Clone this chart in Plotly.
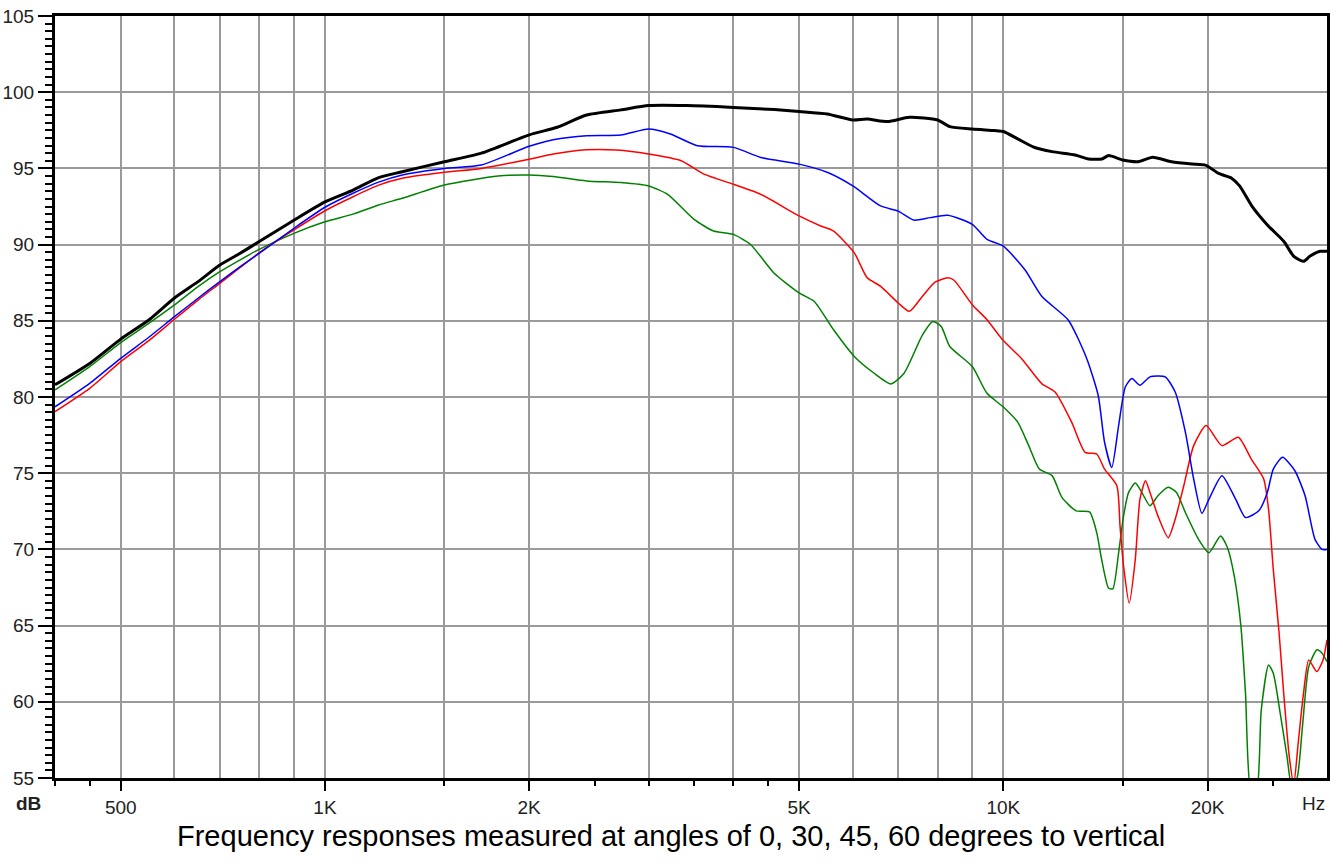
import math
import plotly.graph_objects as go

# ---------------- data ----------------
freq_0 = [400, 450, 500, 550, 600, 650, 700, 750, 800, 900, 1000, 1100, 1200, 1300, 1500, 1700,
          2000, 2200, 2430, 2730, 3000, 3420, 4000, 4600, 5000, 5500, 6000, 6300, 6750, 7270,
          8000, 8340, 9000, 9700, 10000, 10500, 11100, 11800, 12760, 13350, 13970, 14300, 15000,
          15800, 16600, 17700, 18960, 19860, 20760, 21700, 22300, 23250, 24600, 25900, 26800,
          27700, 28300, 29300, 30000]
db_0 = [80.8, 82.2, 83.8, 85.05, 86.5, 87.57, 88.66, 89.43, 90.2, 91.6, 92.8, 93.58, 94.4, 94.78,
        95.44, 96.0, 97.2, 97.7, 98.5, 98.84, 99.12, 99.12, 99.0, 98.86, 98.73, 98.57, 98.18, 98.24,
        98.07, 98.35, 98.18, 97.74, 97.58, 97.48, 97.42, 96.94, 96.39, 96.1, 95.88, 95.62, 95.62,
        95.84, 95.55, 95.44, 95.73, 95.44, 95.29, 95.22, 94.67, 94.36, 93.85, 92.53, 91.21, 90.22,
        89.23, 88.9, 89.23, 89.56, 89.56]

freq_30 = [400, 450, 500, 550, 600, 650, 700, 750, 800, 900, 1000, 1100, 1200, 1300, 1500, 1700,
           2000, 2170, 2430, 2730, 3000, 3230, 3540, 4000, 4390, 5000, 5510, 6000, 6590, 7000,
           7380, 7800, 8280, 9000, 9460, 10000, 10760, 11400, 12470, 13270, 13800, 14100, 14450,
           14790, 15130, 15470, 15900, 16450, 17320, 17920, 18550, 19080, 19620, 20100, 21000,
           22000, 22750, 23800, 24500, 25000, 25800, 26900, 27850, 28800, 29500, 30000]
db_30 = [79.36, 80.9, 82.54, 83.92, 85.27, 86.48, 87.57, 88.55, 89.43, 91.07, 92.45, 93.37, 94.1,
         94.57, 95.0, 95.22, 96.45, 96.88, 97.15, 97.19, 97.59, 97.26, 96.49, 96.38, 95.72, 95.28,
         94.73, 93.85, 92.54, 92.2, 91.61, 91.77, 91.92, 91.33, 90.34, 89.9, 88.35, 86.59, 85.04,
         82.53, 80.1, 77.03, 75.38, 78.13, 80.66, 81.21, 80.77, 81.32, 81.32, 80.33, 77.69, 74.62,
         72.37, 73.3, 74.84, 73.3, 72.09, 72.53, 73.74, 75.27, 76.04, 75.16, 73.52, 70.66, 70.0,
         70.0]

freq_45 = [400, 450, 500, 550, 600, 650, 700, 750, 800, 900, 1000, 1100, 1200, 1300, 1500, 1700,
           2000, 2170, 2430, 2690, 3000, 3350, 3620, 4000, 4390, 5000, 5380, 5620, 6030, 6300,
           6590, 7000, 7270, 7600, 7930, 8280, 8460, 9000, 9460, 10000, 10650, 11390, 11920,
           12610, 13200, 13730, 14100, 14700, 14860, 15040, 15330, 15650, 15900, 16200, 16450,
           16900, 17500, 17920, 18450, 19080, 19900, 21000, 22200, 23200, 24200, 24600, 25000,
           25500, 25900, 26400, 26800, 27200, 27700, 28200, 28980, 29600, 30000]
db_45 = [79.04, 80.57, 82.32, 83.7, 85.1, 86.36, 87.46, 88.5, 89.47, 90.96, 92.22, 93.14, 93.9,
         94.35, 94.74, 95.0, 95.6, 95.94, 96.22, 96.2, 95.94, 95.5, 94.62, 93.96, 93.3, 91.88,
         91.22, 90.89, 89.46, 87.82, 87.27, 86.17, 85.62, 86.61, 87.53, 87.82, 87.66, 86.06, 85.07,
         83.7, 82.5, 80.88, 80.33, 78.35, 76.37, 76.26, 75.27, 74.18, 71.54, 68.9, 66.48, 69.34,
         73.3, 74.5, 73.74, 72.2, 70.77, 71.98, 74.18, 76.81, 78.13, 76.81, 77.36, 75.93, 74.62,
         72.64, 68.68, 64.5, 60.55, 56.37, 54.6, 57.25, 60.55, 62.75, 61.98, 62.75, 64.07]

freq_60 = [400, 450, 500, 550, 600, 650, 700, 750, 800, 900, 1000, 1100, 1200, 1300, 1500, 1800,
           2000, 2170, 2430, 2730, 3000, 3200, 3500, 3740, 4000, 4240, 4590, 5000, 5260, 5620,
           6030, 6450, 6830, 7140, 7600, 7870, 8100, 8340, 9000, 9460, 10000, 10500, 10900, 11300,
           11800, 12200, 12800, 13400, 13730, 13960, 14290, 14500, 14790, 15040, 15300, 15650,
           16000, 16450, 16900, 17500, 18000, 18550, 19400, 20100, 20900, 21400, 21900, 22400,
           22750, 23200, 23600, 24000, 24600, 25000, 25600, 26200, 26600, 27100, 27600, 28200,
           29000, 29500, 30000]
db_60 = [80.46, 81.99, 83.57, 84.83, 86.04, 87.24, 88.22, 89.0, 89.69, 90.74, 91.5, 92.0, 92.6,
         93.04, 93.91, 94.5, 94.57, 94.47, 94.18, 94.07, 93.85, 93.3, 91.66, 90.89, 90.67, 90.01,
         88.14, 86.83, 86.28, 84.41, 82.66, 81.56, 80.86, 81.56, 84.08, 84.96, 84.63, 83.31, 82.0,
         80.24, 79.34, 78.35, 76.81, 75.27, 74.84, 73.41, 72.53, 72.46, 71.1, 69.34, 67.47, 67.41,
         69.78, 72.2, 73.74, 74.35, 73.74, 72.86, 73.52, 74.07, 73.74, 72.42, 70.66, 69.78, 70.88,
         70.11, 68.24, 64.95, 60.55, 54.0, 54.0, 59.45, 62.42, 61.87, 59.23, 56.37, 54.5, 55.0,
         58.35, 62.31, 63.41, 63.19, 62.64]

x_label_vals = [500, 1000, 2000, 5000, 10000, 20000]
x_label_text = ["500", "1K", "2K", "5K", "10K", "20K"]
x_extra_grid = [600, 700, 800, 900, 1500, 3000, 4000, 6000, 7000, 8000, 9000, 15000]
x_small_ticks = [400, 450, 1500, 2500, 3000, 3500, 4000, 4500, 15000, 25000]
y_tick_vals = [55, 60, 65, 70, 75, 80, 85, 90, 95, 100, 105]

caption = "Frequency responses measured at angles of 0, 30, 45, 60 degrees to vertical"

# ---------------- figure ----------------
fig = go.Figure()
series = [
    (freq_60, db_60, "#008000", 1.5),
    (freq_45, db_45, "#FF0000", 1.5),
    (freq_30, db_30, "#0000FF", 1.5),
    (freq_0, db_0, "#000000", 3),
]
for fx, fy, col, w in series:
    fig.add_trace(go.Scatter(x=fx, y=fy, mode="lines",
                             line=dict(color=col, width=w, shape="spline", smoothing=0.6),
                             showlegend=False, hoverinfo="skip"))
# helper trace for overlay axis carrying the small tick marks
fig.add_trace(go.Scatter(x=[1000], y=[None], xaxis="x2", mode="lines", showlegend=False,
                         hoverinfo="skip"))

xr = [math.log10(400), math.log10(30000)]
FONT = "Liberation Sans, Arial, sans-serif"
font_tick = dict(family=FONT, size=19, color="#222222")
grid_col = "#9a9a9a"

fig.update_layout(
    width=1343, height=867,
    margin=dict(l=55, r=16, t=16, b=89, autoexpand=False),
    paper_bgcolor="white", plot_bgcolor="white",
    hovermode=False,
    xaxis=dict(type="log", range=xr, tickmode="array", tickvals=x_label_vals, ticktext=x_label_text,
               ticks="outside", ticklen=10, tickwidth=2, tickcolor="black",
               showgrid=True, gridcolor=grid_col, gridwidth=2, automargin=False,
               minor=dict(tickmode="array", tickvals=x_extra_grid, showgrid=True, gridcolor=grid_col,
                          gridwidth=2, ticks=""),
               showline=True, linecolor="black", linewidth=3, mirror=True, zeroline=False,
               tickfont=font_tick),
    xaxis2=dict(type="log", range=xr, overlaying="x", anchor="y", side="bottom",
                tickmode="array", tickvals=x_small_ticks, ticks="outside", ticklen=7, tickwidth=2,
                tickcolor="black", showticklabels=False, showgrid=False, showline=False,
                zeroline=False, automargin=False),
    yaxis=dict(range=[55, 105], tickmode="array", tickvals=y_tick_vals,
               ticks="outside", ticklen=14, tickwidth=2, tickcolor="black", automargin=False,
               minor=dict(dtick=0.5, ticks="outside", ticklen=7, tickwidth=2, tickcolor="black",
                          showgrid=False),
               showgrid=True, gridcolor=grid_col, gridwidth=2,
               showline=True, linecolor="black", linewidth=3, mirror=True, zeroline=False,
               tickfont=font_tick),
    annotations=[
        dict(text="<b>dB</b>", xref="paper", yref="paper", x=-0.0212, y=-0.034,
             xanchor="center", yanchor="middle", showarrow=False,
             font=dict(family=FONT, size=19, color="#222222")),
        dict(text="Hz", xref="paper", yref="paper", x=0.989, y=-0.034,
             xanchor="center", yanchor="middle", showarrow=False,
             font=dict(family=FONT, size=19, color="#222222")),
        dict(text=caption, xref="paper", yref="paper", x=0.4843, y=-0.0761,
             xanchor="center", yanchor="middle", showarrow=False,
             font=dict(family=FONT, size=29, color="black")),
    ],
)

fig.write_html("out.html", config={"displayModeBar": False, "staticPlot": True},
               post_script="document.body.style.margin='0px';document.body.style.overflow='hidden';")
